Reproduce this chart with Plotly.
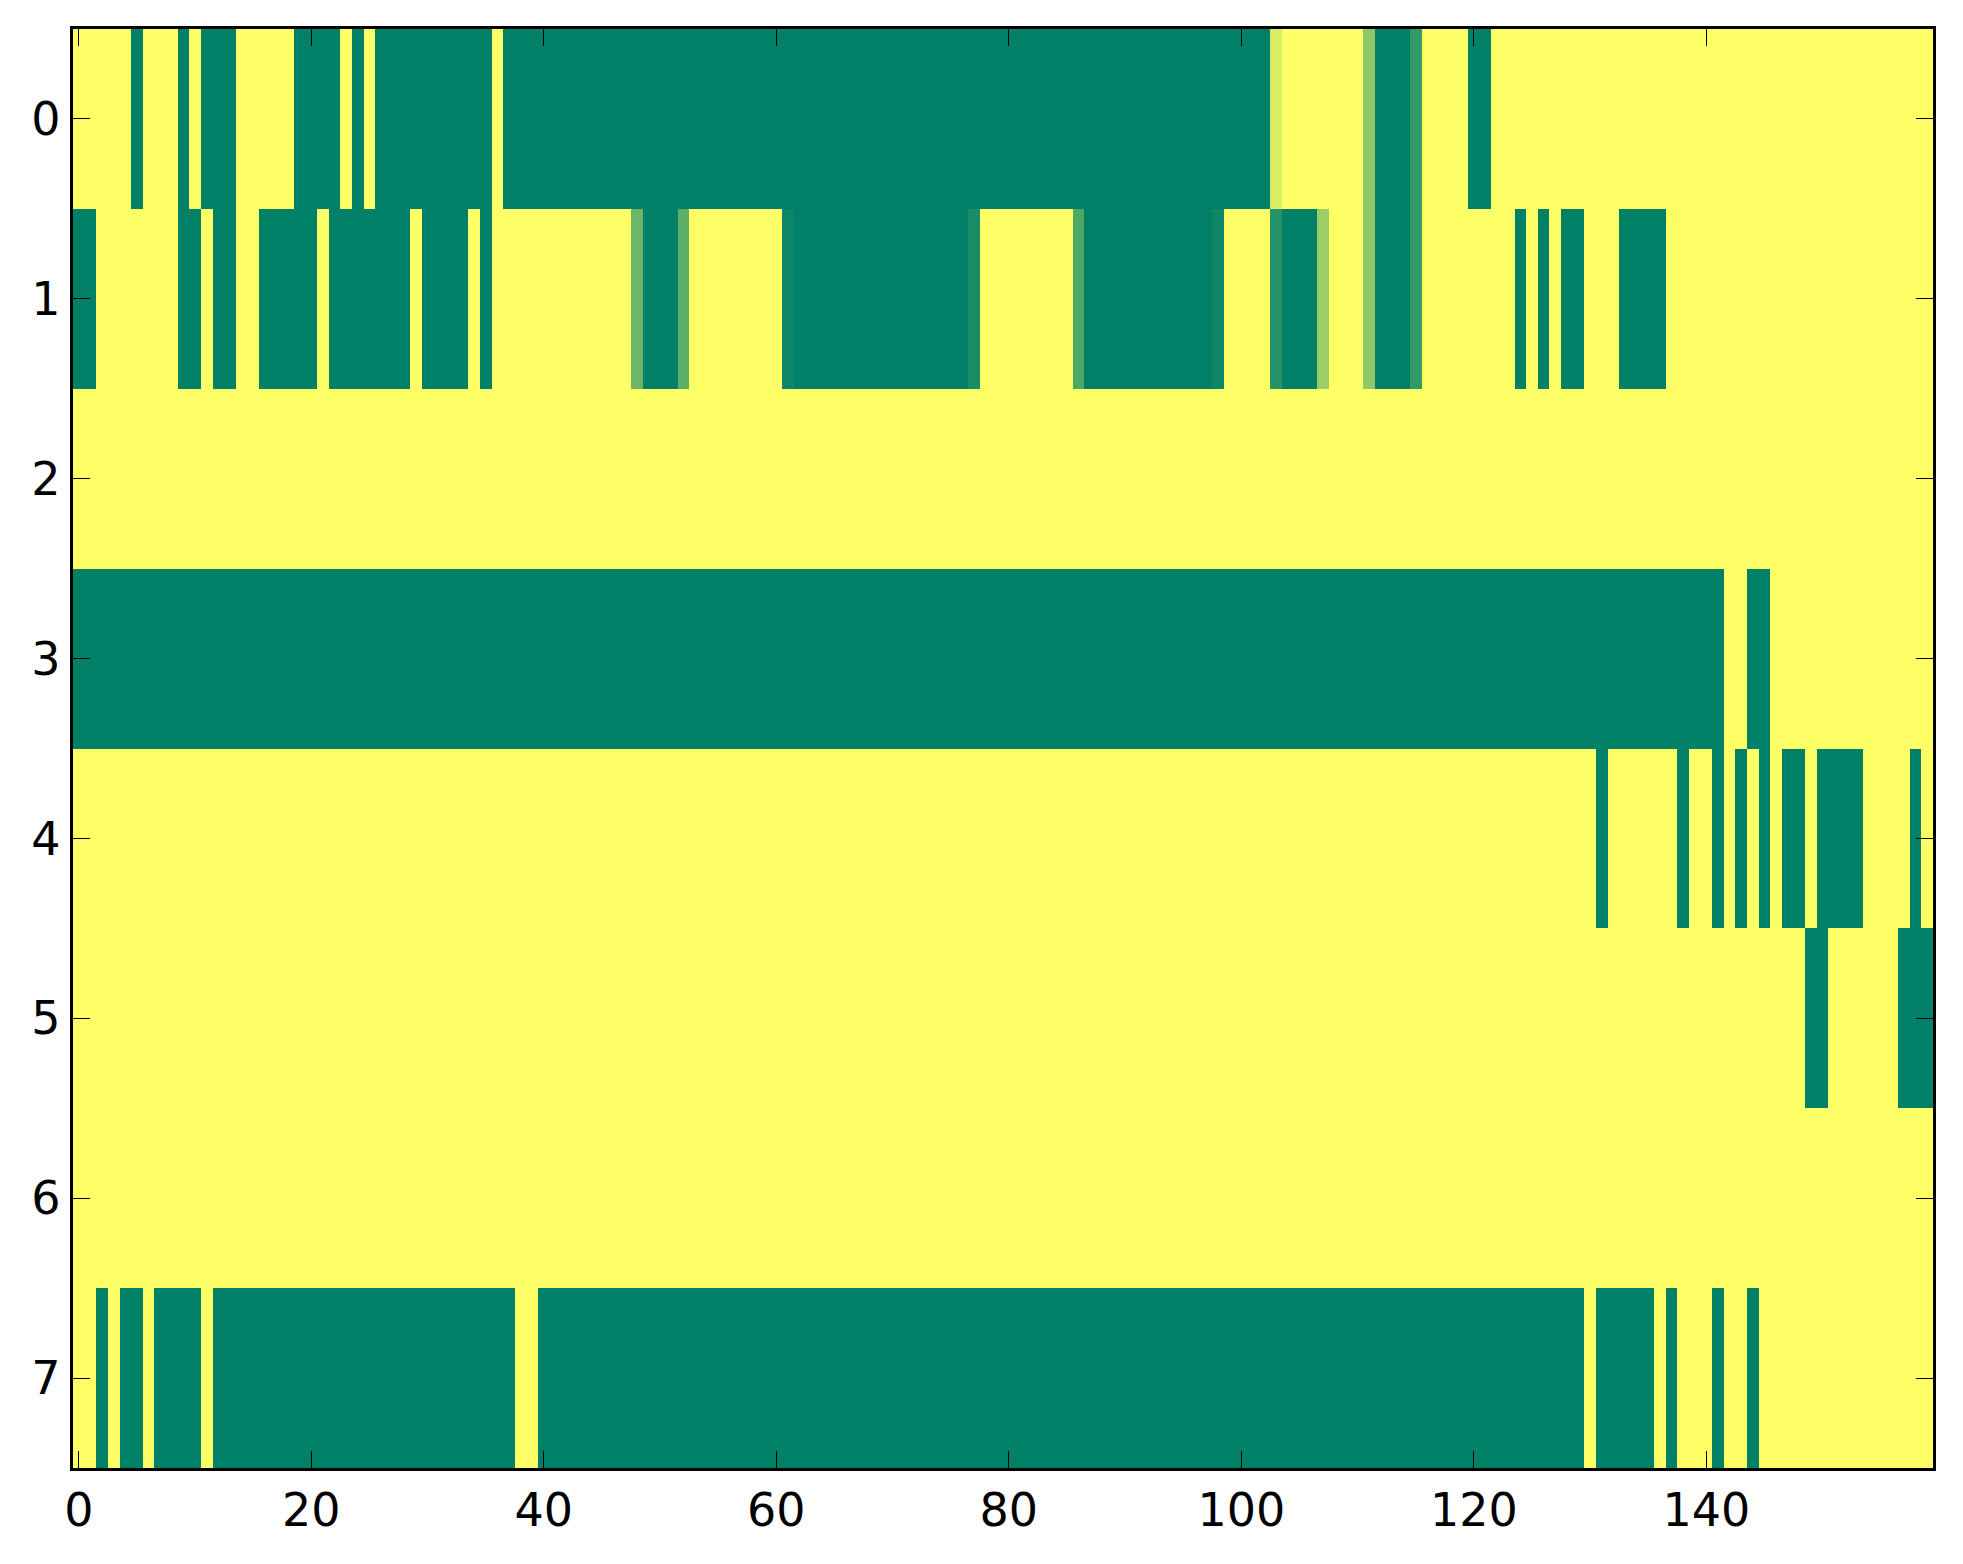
import plotly.graph_objects as go

# 8 rows x 160 columns, values on the 0..1 "summer" scale (0 = green, 1 = yellow)
row_0 = [1, 1, 1, 1, 1, 0, 1, 1, 1, 0, 1, 0, 0, 0, 1, 1, 1, 1, 1, 0,
         0, 0, 0, 1, 0, 1, 0, 0, 0, 0, 0, 0, 0, 0, 0, 0, 1, 0, 0, 0,
         0, 0, 0, 0, 0, 0, 0, 0, 0, 0, 0, 0, 0, 0, 0, 0, 0, 0, 0, 0,
         0, 0, 0, 0, 0, 0, 0, 0, 0, 0, 0, 0, 0, 0, 0, 0, 0, 0, 0, 0,
         0, 0, 0, 0, 0, 0, 0, 0, 0, 0, 0, 0, 0, 0, 0, 0, 0, 0, 0, 0,
         0, 0, 0, 0.85, 1, 1, 1, 1, 1, 1, 1, 0.56, 0, 0, 0, 0.2, 1, 1, 1, 1,
         0, 0, 1, 1, 1, 1, 1, 1, 1, 1, 1, 1, 1, 1, 1, 1, 1, 1, 1, 1,
         1, 1, 1, 1, 1, 1, 1, 1, 1, 1, 1, 1, 1, 1, 1, 1, 1, 1, 1, 1]

row_1 = [0, 0, 1, 1, 1, 1, 1, 1, 1, 0, 0, 1, 0, 0, 1, 1, 0, 0, 0, 0,
         0, 1, 0, 0, 0, 0, 0, 0, 0, 1, 0, 0, 0, 0, 1, 0, 1, 1, 1, 1,
         1, 1, 1, 1, 1, 1, 1, 1, 0.42, 0, 0, 0, 0.37, 1, 1, 1, 1, 1, 1, 1,
         1, 0.05, 0, 0, 0, 0, 0, 0, 0, 0, 0, 0, 0, 0, 0, 0, 0, 0.1, 1, 1,
         1, 1, 1, 1, 1, 1, 0.31, 0, 0, 0, 0, 0, 0, 0, 0, 0, 0, 0, 0.055, 1,
         1, 1, 1, 0.15, 0, 0, 0, 0.61, 1, 1, 1, 0.56, 0, 0, 0, 0.2, 1, 1, 1, 1,
         1, 1, 1, 1, 0, 1, 0, 1, 0, 0, 1, 1, 1, 0, 0, 0, 0, 1, 1, 1,
         1, 1, 1, 1, 1, 1, 1, 1, 1, 1, 1, 1, 1, 1, 1, 1, 1, 1, 1, 1]

row_2 = [1, 1, 1, 1, 1, 1, 1, 1, 1, 1, 1, 1, 1, 1, 1, 1, 1, 1, 1, 1,
         1, 1, 1, 1, 1, 1, 1, 1, 1, 1, 1, 1, 1, 1, 1, 1, 1, 1, 1, 1,
         1, 1, 1, 1, 1, 1, 1, 1, 1, 1, 1, 1, 1, 1, 1, 1, 1, 1, 1, 1,
         1, 1, 1, 1, 1, 1, 1, 1, 1, 1, 1, 1, 1, 1, 1, 1, 1, 1, 1, 1,
         1, 1, 1, 1, 1, 1, 1, 1, 1, 1, 1, 1, 1, 1, 1, 1, 1, 1, 1, 1,
         1, 1, 1, 1, 1, 1, 1, 1, 1, 1, 1, 1, 1, 1, 1, 1, 1, 1, 1, 1,
         1, 1, 1, 1, 1, 1, 1, 1, 1, 1, 1, 1, 1, 1, 1, 1, 1, 1, 1, 1,
         1, 1, 1, 1, 1, 1, 1, 1, 1, 1, 1, 1, 1, 1, 1, 1, 1, 1, 1, 1]

row_3 = [0, 0, 0, 0, 0, 0, 0, 0, 0, 0, 0, 0, 0, 0, 0, 0, 0, 0, 0, 0,
         0, 0, 0, 0, 0, 0, 0, 0, 0, 0, 0, 0, 0, 0, 0, 0, 0, 0, 0, 0,
         0, 0, 0, 0, 0, 0, 0, 0, 0, 0, 0, 0, 0, 0, 0, 0, 0, 0, 0, 0,
         0, 0, 0, 0, 0, 0, 0, 0, 0, 0, 0, 0, 0, 0, 0, 0, 0, 0, 0, 0,
         0, 0, 0, 0, 0, 0, 0, 0, 0, 0, 0, 0, 0, 0, 0, 0, 0, 0, 0, 0,
         0, 0, 0, 0, 0, 0, 0, 0, 0, 0, 0, 0, 0, 0, 0, 0, 0, 0, 0, 0,
         0, 0, 0, 0, 0, 0, 0, 0, 0, 0, 0, 0, 0, 0, 0, 0, 0, 0, 0, 0,
         0, 0, 1, 1, 0, 0, 1, 1, 1, 1, 1, 1, 1, 1, 1, 1, 1, 1, 1, 1]

row_4 = [1, 1, 1, 1, 1, 1, 1, 1, 1, 1, 1, 1, 1, 1, 1, 1, 1, 1, 1, 1,
         1, 1, 1, 1, 1, 1, 1, 1, 1, 1, 1, 1, 1, 1, 1, 1, 1, 1, 1, 1,
         1, 1, 1, 1, 1, 1, 1, 1, 1, 1, 1, 1, 1, 1, 1, 1, 1, 1, 1, 1,
         1, 1, 1, 1, 1, 1, 1, 1, 1, 1, 1, 1, 1, 1, 1, 1, 1, 1, 1, 1,
         1, 1, 1, 1, 1, 1, 1, 1, 1, 1, 1, 1, 1, 1, 1, 1, 1, 1, 1, 1,
         1, 1, 1, 1, 1, 1, 1, 1, 1, 1, 1, 1, 1, 1, 1, 1, 1, 1, 1, 1,
         1, 1, 1, 1, 1, 1, 1, 1, 1, 1, 1, 0, 1, 1, 1, 1, 1, 1, 0, 1,
         1, 0, 1, 0, 1, 0, 1, 0, 0, 1, 0, 0, 0, 0, 1, 1, 1, 1, 0, 1]

row_5 = [1, 1, 1, 1, 1, 1, 1, 1, 1, 1, 1, 1, 1, 1, 1, 1, 1, 1, 1, 1,
         1, 1, 1, 1, 1, 1, 1, 1, 1, 1, 1, 1, 1, 1, 1, 1, 1, 1, 1, 1,
         1, 1, 1, 1, 1, 1, 1, 1, 1, 1, 1, 1, 1, 1, 1, 1, 1, 1, 1, 1,
         1, 1, 1, 1, 1, 1, 1, 1, 1, 1, 1, 1, 1, 1, 1, 1, 1, 1, 1, 1,
         1, 1, 1, 1, 1, 1, 1, 1, 1, 1, 1, 1, 1, 1, 1, 1, 1, 1, 1, 1,
         1, 1, 1, 1, 1, 1, 1, 1, 1, 1, 1, 1, 1, 1, 1, 1, 1, 1, 1, 1,
         1, 1, 1, 1, 1, 1, 1, 1, 1, 1, 1, 1, 1, 1, 1, 1, 1, 1, 1, 1,
         1, 1, 1, 1, 1, 1, 1, 1, 1, 0, 0, 1, 1, 1, 1, 1, 1, 0, 0, 0]

row_6 = [1, 1, 1, 1, 1, 1, 1, 1, 1, 1, 1, 1, 1, 1, 1, 1, 1, 1, 1, 1,
         1, 1, 1, 1, 1, 1, 1, 1, 1, 1, 1, 1, 1, 1, 1, 1, 1, 1, 1, 1,
         1, 1, 1, 1, 1, 1, 1, 1, 1, 1, 1, 1, 1, 1, 1, 1, 1, 1, 1, 1,
         1, 1, 1, 1, 1, 1, 1, 1, 1, 1, 1, 1, 1, 1, 1, 1, 1, 1, 1, 1,
         1, 1, 1, 1, 1, 1, 1, 1, 1, 1, 1, 1, 1, 1, 1, 1, 1, 1, 1, 1,
         1, 1, 1, 1, 1, 1, 1, 1, 1, 1, 1, 1, 1, 1, 1, 1, 1, 1, 1, 1,
         1, 1, 1, 1, 1, 1, 1, 1, 1, 1, 1, 1, 1, 1, 1, 1, 1, 1, 1, 1,
         1, 1, 1, 1, 1, 1, 1, 1, 1, 1, 1, 1, 1, 1, 1, 1, 1, 1, 1, 1]

row_7 = [1, 1, 0, 1, 0, 0, 1, 0, 0, 0, 0, 1, 0, 0, 0, 0, 0, 0, 0, 0,
         0, 0, 0, 0, 0, 0, 0, 0, 0, 0, 0, 0, 0, 0, 0, 0, 0, 0, 1, 1,
         0, 0, 0, 0, 0, 0, 0, 0, 0, 0, 0, 0, 0, 0, 0, 0, 0, 0, 0, 0,
         0, 0, 0, 0, 0, 0, 0, 0, 0, 0, 0, 0, 0, 0, 0, 0, 0, 0, 0, 0,
         0, 0, 0, 0, 0, 0, 0, 0, 0, 0, 0, 0, 0, 0, 0, 0, 0, 0, 0, 0,
         0, 0, 0, 0, 0, 0, 0, 0, 0, 0, 0, 0, 0, 0, 0, 0, 0, 0, 0, 0,
         0, 0, 0, 0, 0, 0, 0, 0, 0, 0, 1, 0, 0, 0, 0, 0, 1, 0, 1, 1,
         1, 0, 1, 1, 0, 1, 1, 1, 1, 1, 1, 1, 1, 1, 1, 1, 1, 1, 1, 1]

rows = [row_0, row_1, row_2, row_3, row_4, row_5, row_6, row_7]
row_ids = list(range(len(rows)))
col_ids = list(range(len(row_0)))

x_ticks = [0, 20, 40, 60, 80, 100, 120, 140]
y_ticks = [0, 1, 2, 3, 4, 5, 6, 7]

# matplotlib "summer" is linear in rgb, so two stops are enough
summer = [[0.0, "rgb(0,128,102)"], [1.0, "rgb(255,255,102)"]]

fig = go.Figure(
    data=[
        go.Heatmap(
            z=rows,
            x=col_ids,
            y=row_ids,
            zmin=0,
            zmax=1,
            colorscale=summer,
            showscale=False,
            hoverinfo="skip",
        )
    ]
)

axis_style = dict(
    showline=True,
    linecolor="black",
    linewidth=3.3,
    mirror="ticks",
    ticks="inside",
    ticklen=17,
    tickwidth=1.3,
    tickcolor="black",
    showgrid=False,
    zeroline=False,
    tickfont=dict(family="DejaVu Sans", size=46, color="black"),
)

fig.update_xaxes(range=[-0.5, len(col_ids) - 0.5], tickvals=x_ticks,
                 ticktext=[str(t) for t in x_ticks], **axis_style)
fig.update_yaxes(range=[len(row_ids) - 0.5, -0.5], tickvals=y_ticks,
                 ticktext=[str(t) for t in y_ticks], **axis_style)

# page body adds an 8px margin, so the figure is a bit smaller than the window
fig.update_layout(
    width=1947,
    height=1548,
    margin=dict(l=65, r=22, t=21, b=88),
    paper_bgcolor="white",
    plot_bgcolor="white",
    showlegend=False,
)

fig.write_html("out.html")
